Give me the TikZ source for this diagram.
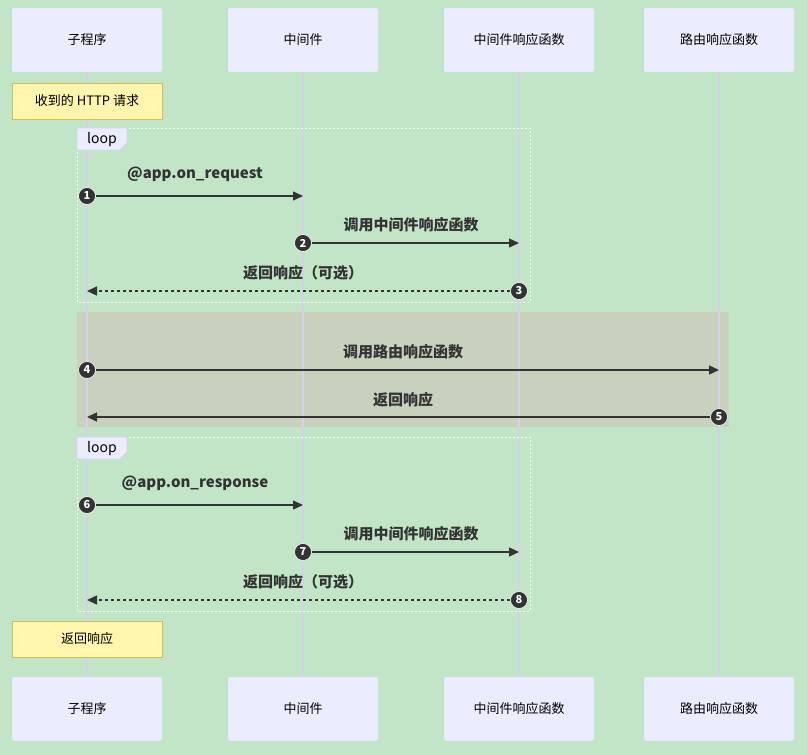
\documentclass[tikz,border=0pt]{standalone}
\usepackage{fontspec}
\setmainfont{Noto Sans CJK SC}
\usetikzlibrary{arrows.meta}
\definecolor{bg}{HTML}{C1E5C6}
\definecolor{actf}{HTML}{ECECFF}
\definecolor{actd}{HTML}{D5D0EC}
\definecolor{notef}{HTML}{FFF5AD}
\definecolor{noted}{HTML}{CBBF5A}
\definecolor{rectf}{HTML}{C8D0BE}
\definecolor{ln}{HTML}{333333}
\begin{document}
\begin{tikzpicture}[x=1pt,y=-1pt,
 actor/.style={draw=actd,fill=actf,minimum width=150pt,minimum height=64pt,font=\fontsize{13}{15}\selectfont,inner sep=0,rounded corners=1pt},
 note/.style={draw=noted,fill=notef,minimum width=150pt,minimum height=36pt,font=\fontsize{13}{15}\selectfont,inner sep=0},
 life/.style={draw=actd,line width=1.3pt},
 msg/.style={draw=ln,line width=1.4pt,-{Triangle[length=10pt,width=9pt]}},
 dmsg/.style={msg,dash pattern=on 3pt off 3pt},
 num/.style={circle,fill=ln,draw=white,line width=0.6pt,text=white,inner sep=0,minimum size=17pt,font=\bfseries\fontsize{11}{12}\selectfont},
 lbl/.style={font=\bfseries\fontsize{15}{17}\selectfont,text=ln},
 loopb/.style={draw=white!85!bg,dash pattern=on 2pt off 2pt,line width=1pt},
 loopl/.style={draw=actd,fill=actf,line width=0.8pt}]
\fill[bg] (0,0) rectangle (807,755);
\useasboundingbox (0,0) rectangle (807,755);
% rect highlight
\fill[rectf] (77,312) rectangle (729,427);
% lifelines
\foreach \x in {87,303,519,719} \draw[life] (\x,72) -- (\x,677);
% loop boxes
\draw[loopb] (77,128) rectangle (530,302);
\draw[loopl] (77,128) -- (127,128) -- (127,143) -- (120,150) -- (77,150) -- cycle;
\node[font=\fontsize{14}{16}\selectfont] (l1) at (102,140) {loop};
\draw[loopb] (77,437) rectangle (530,611);
\draw[loopl] (77,437) -- (127,437) -- (127,452) -- (120,459) -- (77,459) -- cycle;
\node[font=\fontsize{14}{16}\selectfont] (l2) at (102,449) {loop};
% actors
\node[actor] (a1) at (87,40) {子程序};
\node[actor] (a2) at (303,40) {中间件};
\node[actor] (a3) at (519,40) {中间件响应函数};
\node[actor] (a4) at (719,40) {路由响应函数};
\node[actor] (b1) at (87,709) {子程序};
\node[actor] (b2) at (303,709) {中间件};
\node[actor] (b3) at (519,709) {中间件响应函数};
\node[actor] (b4) at (719,709) {路由响应函数};
\node[note] (n1) at (87,101) {收到的 HTTP 请求};
\node[note] (n2) at (87,639) {返回响应};
% message endpoints
\coordinate (p1) at (303,196); \coordinate (p2) at (519,243); \coordinate (p3) at (87,291);
\coordinate (p4) at (719,370); \coordinate (p5) at (87,417);
\coordinate (p6) at (303,505); \coordinate (p7) at (519,552); \coordinate (p8) at (87,600);
\node[num] (s1) at (87,196) {1};
\node[num] (s2) at (303,243) {2};
\node[num] (s3) at (519,291) {3};
\node[num] (s4) at (87,370) {4};
\node[num] (s5) at (719,417) {5};
\node[num] (s6) at (87,505) {6};
\node[num] (s7) at (303,552) {7};
\node[num] (s8) at (519,600) {8};
\begin{scope}[on background layer/.style={}]
\end{scope}
\draw[msg] (s1) -- (p1);
\draw[msg] (s2) -- (p2);
\draw[dmsg] (s3) -- (p3);
\draw[msg] (s4) -- (p4);
\draw[msg] (s5) -- (p5);
\draw[msg] (s6) -- (p6);
\draw[msg] (s7) -- (p7);
\draw[dmsg] (s8) -- (p8);
\node[lbl] (t1) at (195,174) {@app.on\_request};
\node[lbl] (t2) at (411,225) {调用中间件响应函数};
\node[lbl] (t3) at (303,273) {返回响应（可选）};
\node[lbl] (t4) at (403,352) {调用路由响应函数};
\node[lbl] (t5) at (403,400) {返回响应};
\node[lbl] (t6) at (195,483) {@app.on\_response};
\node[lbl] (t7) at (411,534) {调用中间件响应函数};
\node[lbl] (t8) at (303,582) {返回响应（可选）};
\end{tikzpicture}
\end{document}
